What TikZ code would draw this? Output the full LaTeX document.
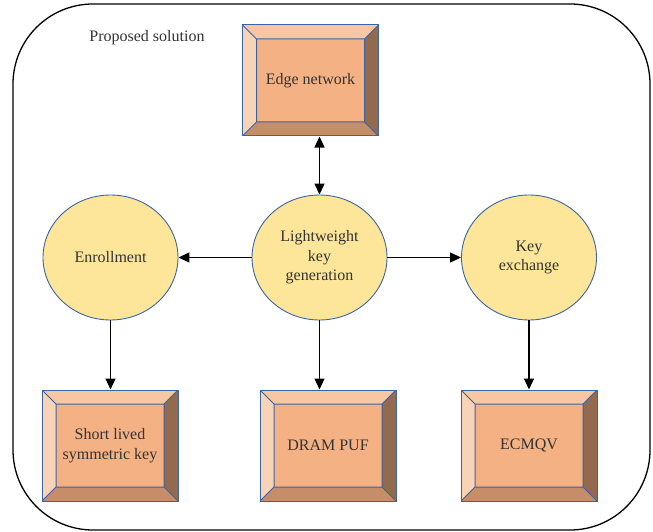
\documentclass[tikz,border=0pt]{standalone}
\usepackage{fontspec}
\setmainfont{Liberation Serif}
\usetikzlibrary{arrows.meta, calc, shapes.geometric}
\definecolor{bevelblue}{HTML}{3A64A6}
\definecolor{bevelinner}{HTML}{F4B183}
\definecolor{beveltop}{HTML}{F8C6A0}
\definecolor{bevelleft}{HTML}{F9D3B6}
\definecolor{bevelright}{HTML}{946A4F}
\definecolor{bevelbottom}{HTML}{C68E68}
\definecolor{ovalfill}{HTML}{FDE699}
\definecolor{labelgray}{HTML}{333333}
\tikzset{
  % bevelled boxes
  bevel-box/.style={rectangle, draw=bevelblue, line width=1pt, fill=bevelinner,
    minimum width=136pt, minimum height=111pt, inner sep=0pt, align=center,
    text=labelgray, font=\fontsize{16}{19.5}\selectfont,
    path picture={
      \coordinate (bnw) at (path picture bounding box.north west);
      \coordinate (bne) at (path picture bounding box.north east);
      \coordinate (bsw) at (path picture bounding box.south west);
      \coordinate (bse) at (path picture bounding box.south east);
      \coordinate (inw) at ($(bnw)+(14pt,-14pt)$);
      \coordinate (ine) at ($(bne)+(-14pt,-14pt)$);
      \coordinate (isw) at ($(bsw)+(14pt,14pt)$);
      \coordinate (ise) at ($(bse)+(-14pt,14pt)$);
      \fill[beveltop] (bnw) -- (bne) -- (ine) -- (inw) -- cycle;
      \fill[bevelleft] (bnw) -- (bsw) -- (isw) -- (inw) -- cycle;
      \fill[bevelright] (bne) -- (bse) -- (ise) -- (ine) -- cycle;
      \fill[bevelbottom] (bsw) -- (bse) -- (ise) -- (isw) -- cycle;
      \draw[bevelblue, line width=1pt] (inw) rectangle (ise)
        (bnw) -- (inw) (bne) -- (ine) (bsw) -- (isw) (bse) -- (ise);
    }},
  % process ovals
  oval-node/.style={ellipse, draw=bevelblue, line width=0.9pt, fill=ovalfill,
    minimum width=135pt, minimum height=125pt, inner sep=0pt, align=center,
    text=labelgray, font=\fontsize{16}{19.5}\selectfont},
  link/.style={-{Triangle[length=11pt, width=10pt]}, line width=1.2pt},
  link-both/.style={{Triangle[length=11pt, width=10pt]}-{Triangle[length=11pt, width=10pt]}, line width=1.2pt},
  frame/.style={draw=black, line width=1.3pt, rounded corners=80pt}
}
\begin{document}
\begin{tikzpicture}[x=1pt, y=-1pt]
    \useasboundingbox (0,0) rectangle (653,532);
    % --- Outer frame ---
    \draw[frame] (13,4) rectangle (650,530);
    \node[text=labelgray, font=\fontsize{16}{19}\selectfont] (title) at (147,38) {Proposed solution};

    % --- Boxes ---
    \node[bevel-box] (edge) at (310.5,80.5) {Edge network};
    \node[bevel-box] (short) at (110,445.5) {Short lived\\symmetric key};
    \node[bevel-box] (dram) at (328,445.5) {DRAM PUF};
    \node[bevel-box] (ecmqv) at (529,445.5) {ECMQV};

    % --- Ovals ---
    \node[oval-node] (enroll) at (110.5,257.5) {Enrollment};
    \node[oval-node] (light) at (319.5,257.5) {Lightweight\\key\\generation};
    \node[oval-node] (keyex) at (529,257.5) {Key\\exchange};

    % --- Arrows ---
    \draw[link-both] (light.north |- edge.south) -- (light.north);
    \draw[link] (light.west) -- (enroll.east);
    \draw[link] (light.east) -- (keyex.west);
    \draw[link] (enroll.south) -- (enroll.south |- short.north);
    \draw[link] (light.south) -- (light.south |- dram.north);
    \draw[link] (keyex.south) -- (keyex.south |- ecmqv.north);
\end{tikzpicture}
\end{document}
